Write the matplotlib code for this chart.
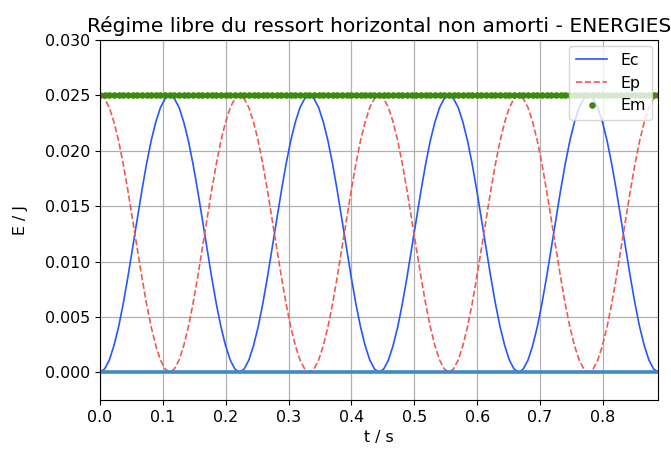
import numpy as np
import matplotlib
matplotlib.use("Agg")
import matplotlib.pyplot as plt

# sampling grid (s) : 121 samples from 0 to 2 periods of the spring
T_END = 0.888
N_SAMPLES = 121
t = np.linspace(0, T_END, N_SAMPLES)

# kinetic energy (J)
Ec = [
    0.0, 0.0003, 0.0011, 0.0024, 0.0041, 0.0062, 0.0086, 0.0112, 0.0138, 0.0164,
    0.0188, 0.0209, 0.0226, 0.0239, 0.0247, 0.0250, 0.0247, 0.0239, 0.0226, 0.0209,
    0.0188, 0.0164, 0.0138, 0.0112, 0.0086, 0.0062, 0.0041, 0.0024, 0.0011, 0.0003,
    0.0, 0.0003, 0.0011, 0.0024, 0.0041, 0.0062, 0.0086, 0.0112, 0.0138, 0.0164,
    0.0188, 0.0209, 0.0226, 0.0239, 0.0247, 0.0250, 0.0247, 0.0239, 0.0226, 0.0209,
    0.0188, 0.0164, 0.0138, 0.0112, 0.0086, 0.0062, 0.0041, 0.0024, 0.0011, 0.0003,
    0.0, 0.0003, 0.0011, 0.0024, 0.0041, 0.0062, 0.0086, 0.0112, 0.0138, 0.0164,
    0.0188, 0.0209, 0.0226, 0.0239, 0.0247, 0.0250, 0.0247, 0.0239, 0.0226, 0.0209,
    0.0188, 0.0164, 0.0138, 0.0112, 0.0086, 0.0062, 0.0041, 0.0024, 0.0011, 0.0003,
    0.0, 0.0003, 0.0011, 0.0024, 0.0041, 0.0062, 0.0086, 0.0112, 0.0138, 0.0164,
    0.0188, 0.0209, 0.0226, 0.0239, 0.0247, 0.0250, 0.0247, 0.0239, 0.0226, 0.0209,
    0.0188, 0.0164, 0.0138, 0.0112, 0.0086, 0.0062, 0.0041, 0.0024, 0.0011, 0.0003,
    0.0,
]

# potential energy (J)
Ep = [
    0.0250, 0.0247, 0.0239, 0.0226, 0.0209, 0.0188, 0.0164, 0.0138, 0.0112, 0.0086,
    0.0062, 0.0041, 0.0024, 0.0011, 0.0003, 0.0, 0.0003, 0.0011, 0.0024, 0.0041,
    0.0062, 0.0086, 0.0112, 0.0138, 0.0164, 0.0188, 0.0209, 0.0226, 0.0239, 0.0247,
    0.0250, 0.0247, 0.0239, 0.0226, 0.0209, 0.0188, 0.0164, 0.0138, 0.0112, 0.0086,
    0.0062, 0.0041, 0.0024, 0.0011, 0.0003, 0.0, 0.0003, 0.0011, 0.0024, 0.0041,
    0.0062, 0.0086, 0.0112, 0.0138, 0.0164, 0.0188, 0.0209, 0.0226, 0.0239, 0.0247,
    0.0250, 0.0247, 0.0239, 0.0226, 0.0209, 0.0188, 0.0164, 0.0138, 0.0112, 0.0086,
    0.0062, 0.0041, 0.0024, 0.0011, 0.0003, 0.0, 0.0003, 0.0011, 0.0024, 0.0041,
    0.0062, 0.0086, 0.0112, 0.0138, 0.0164, 0.0188, 0.0209, 0.0226, 0.0239, 0.0247,
    0.0250, 0.0247, 0.0239, 0.0226, 0.0209, 0.0188, 0.0164, 0.0138, 0.0112, 0.0086,
    0.0062, 0.0041, 0.0024, 0.0011, 0.0003, 0.0, 0.0003, 0.0011, 0.0024, 0.0041,
    0.0062, 0.0086, 0.0112, 0.0138, 0.0164, 0.0188, 0.0209, 0.0226, 0.0239, 0.0247,
    0.0250,
]

# mechanical energy : constant (J)
EM_VALUE = 0.025
Em = np.full(N_SAMPLES, EM_VALUE)

# baseline drawn at zero
ZERO = np.zeros(N_SAMPLES)

FS = 11.4

fig = plt.figure(figsize=(6.71, 4.54), dpi=100)
ax = fig.add_axes([0.149, 0.119, 0.832, 0.793])

ax.plot(t, Ec, color="#2457ff", lw=1.2, label="Ec")
ax.plot(t, Ep, color="#f05a50", lw=1.2, ls="--", label="Ep")
ax.plot(t, Em, ".", color="#3d8a0c", ms=7.5, label="Em")
ax.plot(t, ZERO, color="#4189c6", lw=2.6)

ax.set_xlim(0, T_END)
ax.set_ylim(-0.0025, 0.030)
ax.set_xticks(np.arange(0, 0.81, 0.1))
ax.set_yticks(np.arange(0, 0.0301, 0.005))
ax.yaxis.set_major_formatter(matplotlib.ticker.FormatStrFormatter("%.3f"))
ax.tick_params(labelsize=FS)
ax.grid(True, color="#b0b0b0", lw=0.9)

ax.set_title("Régime libre du ressort horizontal non amorti - ENERGIES",
             fontsize=14.6, pad=6)
ax.set_xlabel("t / s", fontsize=FS)
ax.set_ylabel("E / J", fontsize=FS, labelpad=12)
ax.legend(loc="upper right", fontsize=FS, borderaxespad=0.4)

fig.savefig("out.png", dpi=100)
